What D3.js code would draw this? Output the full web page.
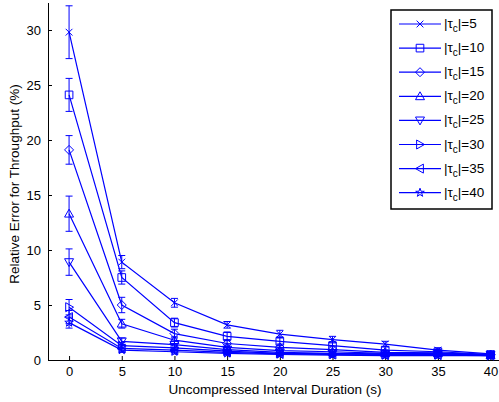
<!DOCTYPE html>
<html>
<head>
<meta charset="utf-8">
<script src="https://cdn.jsdelivr.net/npm/d3@7"></script>
<style>
  body { margin: 0; background: #fff; }
  text { font-family: "Liberation Sans", Arial, sans-serif; }
</style>
</head>
<body>
<div id="visual"></div>
<script>
// interval durations (s)
const durations = [0, 5, 10, 15, 20, 25, 30, 35, 40]
const tauLabels = [5, 10, 15, 20, 25, 30, 35, 40]
const markerTypes = ["x", "square", "diamond", "triUp", "triDown", "triRight", "triLeft", "star"]

// relative error (%) for each |tau_c|
const err5  = [29.8, 8.9, 5.2, 3.2, 2.35, 1.85, 1.45, 0.9, 0.55]
const err10 = [24.1, 7.5, 3.4, 2.15, 1.7, 1.3, 0.9, 0.75, 0.5]
const err15 = [19.1, 5.0, 2.4, 1.5, 1.15, 0.95, 0.7, 0.65, 0.5]
const err20 = [13.3, 3.3, 1.8, 1.15, 0.85, 0.75, 0.6, 0.6, 0.45]
const err25 = [8.9, 1.7, 1.4, 0.95, 0.7, 0.6, 0.55, 0.55, 0.45]
const err30 = [4.8, 1.3, 1.1, 0.8, 0.6, 0.55, 0.5, 0.5, 0.4]
const err35 = [3.9, 1.05, 0.9, 0.7, 0.55, 0.5, 0.45, 0.45, 0.4]
const err40 = [3.4, 0.9, 0.75, 0.6, 0.5, 0.45, 0.4, 0.4, 0.4]

// half length of the error bars
const sd5  = [2.4, 0.6, 0.4, 0.3, 0.35, 0.3, 0.25, 0.2, 0.15]
const sd10 = [1.5, 0.6, 0.4, 0.4, 0.4, 0.35, 0.3, 0.2, 0.15]
const sd15 = [1.3, 0.7, 0.4, 0.35, 0.3, 0.25, 0.2, 0.2, 0.15]
const sd20 = [1.6, 0.4, 0.3, 0.3, 0.25, 0.2, 0.2, 0.15, 0.15]
const sd25 = [1.2, 0.3, 0.3, 0.25, 0.2, 0.2, 0.15, 0.15, 0.15]
const sd30 = [0.7, 0.3, 0.25, 0.2, 0.2, 0.15, 0.15, 0.15, 0.15]
const sd35 = [0.6, 0.25, 0.2, 0.2, 0.15, 0.15, 0.15, 0.15, 0.1]
const sd40 = [0.5, 0.2, 0.2, 0.15, 0.15, 0.15, 0.1, 0.1, 0.1]

const yTicks = [0, 5, 10, 15, 20, 25, 30]
const xTicks = durations

const allVals = [err5, err10, err15, err20, err25, err30, err35, err40]
const allSd = [sd5, sd10, sd15, sd20, sd25, sd30, sd35, sd40]

const series = tauLabels.map(function(t, i) {
  return {
    tau: t,
    marker: markerTypes[i],
    points: durations.map(function(d, j) {
      return { x: d, y: allVals[i][j], e: allSd[i][j] }
    })
  }
})

const width = 499, height = 402
const blue = "#0000ff"

const svg = d3.select("#visual")
  .append("svg")
  .attr("width", width)
  .attr("height", height)

let scaleX = d3.scaleLinear()
  .domain([-2, 40.8])
  .range([48, 499])

let scaleY = d3.scaleLinear()
  .domain([0, 32.5])
  .range([360, 2.5])

// marker shapes, r is about half the size
function markerPath(type, r) {
  const p = d3.path()
  if (type === "x") {
    const a = r * 0.75
    p.moveTo(-a, -a); p.lineTo(a, a)
    p.moveTo(-a, a); p.lineTo(a, -a)
  } else if (type === "square") {
    const a = r * 0.85
    p.rect(-a, -a, 2 * a, 2 * a)
  } else if (type === "diamond") {
    p.moveTo(0, -r); p.lineTo(r, 0); p.lineTo(0, r); p.lineTo(-r, 0); p.closePath()
  } else if (type === "triUp") {
    p.moveTo(0, -r); p.lineTo(r, r * 0.75); p.lineTo(-r, r * 0.75); p.closePath()
  } else if (type === "triDown") {
    p.moveTo(0, r); p.lineTo(r, -r * 0.75); p.lineTo(-r, -r * 0.75); p.closePath()
  } else if (type === "triRight") {
    p.moveTo(r, 0); p.lineTo(-r * 0.75, r); p.lineTo(-r * 0.75, -r); p.closePath()
  } else if (type === "triLeft") {
    p.moveTo(-r, 0); p.lineTo(r * 0.75, r); p.lineTo(r * 0.75, -r); p.closePath()
  } else if (type === "star") {
    for (let k = 0; k < 10; k++) {
      const ang = -Math.PI / 2 + k * Math.PI / 5
      const rr = k % 2 === 0 ? r : r * 0.4
      const px = rr * Math.cos(ang), py = rr * Math.sin(ang)
      if (k === 0) p.moveTo(px, py); else p.lineTo(px, py)
    }
    p.closePath()
  }
  return p.toString()
}

// axes
const xAxis = svg.append("g")
  .attr("transform", "translate(0,360)")
  .call(d3.axisBottom(scaleX).tickValues(xTicks).tickSizeInner(-4).tickSizeOuter(0).tickPadding(7))
const yAxis = svg.append("g")
  .attr("transform", "translate(48,0)")
  .call(d3.axisLeft(scaleY).tickValues(yTicks).tickSizeInner(-4).tickSizeOuter(0).tickPadding(7))

;[xAxis, yAxis].forEach(function(ax) {
  ax.select(".domain").attr("stroke", "#000").attr("stroke-width", 1)
  ax.selectAll(".tick line").attr("stroke", "#000")
  ax.selectAll(".tick text").attr("font-size", "13px").attr("fill", "#000")
    .style("font-family", '"Liberation Sans", Arial, sans-serif')
})

const plot = svg.append("g")

let line = d3.line()
  .x(function(d) { return scaleX(d.x) })
  .y(function(d) { return scaleY(d.y) })

series.forEach(function(s) {
  const g = plot.append("g")
  // error bars
  g.selectAll(".eb")
    .data(s.points)
    .enter()
    .append("path")
    .attr("d", function(d) {
      const x = scaleX(d.x), y0 = scaleY(d.y - d.e), y1 = scaleY(d.y + d.e)
      return "M" + x + "," + y0 + "V" + y1 +
        "M" + (x - 3.5) + "," + y0 + "H" + (x + 3.5) +
        "M" + (x - 3.5) + "," + y1 + "H" + (x + 3.5)
    })
    .attr("fill", "none")
    .attr("stroke", blue)
    .attr("stroke-width", 1)
  g.append("path")
    .datum(s.points)
    .attr("d", line)
    .attr("fill", "none")
    .attr("stroke", blue)
    .attr("stroke-width", 1.2)
  g.selectAll(".mk")
    .data(s.points)
    .enter()
    .append("path")
    .attr("transform", function(d) { return "translate(" + scaleX(d.x) + "," + scaleY(d.y) + ")" })
    .attr("d", markerPath(s.marker, 4.5))
    .attr("fill", "none")
    .attr("stroke", blue)
    .attr("stroke-width", 1)
})

// axis titles
svg.append("text")
  .attr("x", 275)
  .attr("y", 393.5)
  .attr("text-anchor", "middle")
  .attr("font-size", "13.5px")
  .text("Uncompressed Interval Duration (s)")

svg.append("text")
  .attr("transform", "translate(19,184) rotate(-90)")
  .attr("text-anchor", "middle")
  .attr("font-size", "13.5px")
  .text("Relative Error for Throughput (%)")

// legend
const legend = svg.append("g")
legend.append("rect")
  .attr("x", 391)
  .attr("y", 10)
  .attr("width", 101)
  .attr("height", 199)
  .attr("fill", "#fff")
  .attr("stroke", "#000")
  .attr("stroke-width", 1.5)

const rows = legend.selectAll(".row")
  .data(series)
  .enter()
  .append("g")
  .attr("transform", function(d, i) { return "translate(0," + (24 + i * 24.1) + ")" })

rows.append("line")
  .attr("x1", 399).attr("x2", 441)
  .attr("stroke", blue).attr("stroke-width", 1.2)
rows.append("path")
  .attr("transform", "translate(420,0)")
  .attr("d", function(d) { return markerPath(d.marker, 4.5) })
  .attr("fill", "none")
  .attr("stroke", blue)

const lt = rows.append("text")
  .attr("x", 444)
  .attr("y", 4)
  .attr("font-size", "13.5px")
lt.append("tspan").text("|\u03c4")
lt.append("tspan").attr("font-size", "10px").attr("dy", 4).text("c")
lt.append("tspan").attr("dy", -4).text(function(d) { return "|=" + d.tau })
</script>
</body>
</html>
